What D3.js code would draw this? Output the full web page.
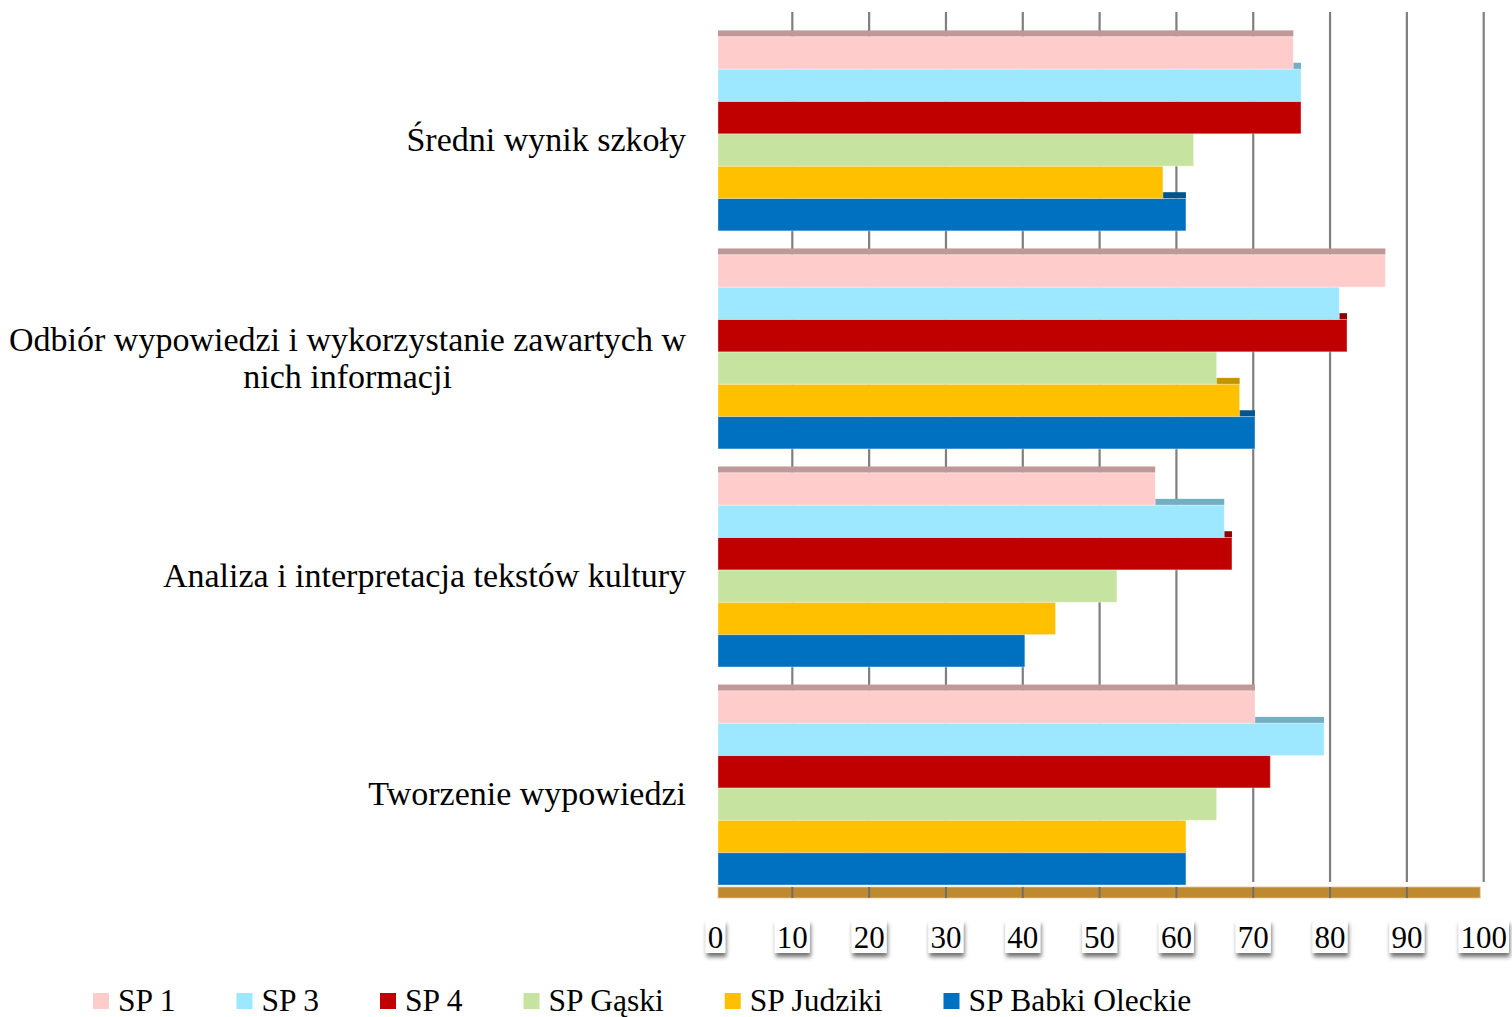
<!DOCTYPE html>
<html><head><meta charset="utf-8">
<script src="https://cdn.jsdelivr.net/npm/d3@7"></script>
<style>body{margin:0;background:#fff}svg{display:block}</style>
</head><body>
<svg id="c" width="1512" height="1017"></svg>
<script>
const categories = [
  "Średni wynik szkoły",
  "Odbiór wypowiedzi i wykorzystanie zawartych w nich informacji",
  "Analiza i interpretacja tekstów kultury",
  "Tworzenie wypowiedzi"
];
const seriesNames = ["SP 1", "SP 3", "SP 4", "SP Gąski", "SP Judziki", "SP Babki Oleckie"];
const sp1 = [75, 87, 57, 70];
const sp3 = [76, 81, 66, 79];
const sp4 = [76, 82, 67, 72];
const spGaski = [62, 65, 52, 65];
const spJudziki = [58, 68, 44, 61];
const spBabki = [61, 70, 40, 61];
const tickValues = [0, 10, 20, 30, 40, 50, 60, 70, 80, 90, 100];
const faceColors = ["#FFCCCC", "#9DE7FF", "#C00000", "#C6E4A0", "#FFC000", "#0070C0"];
const topColors = ["#C09898", "#74AEC2", "#900000", "#9BB57C", "#C49300", "#00558F"];

const seriesValues = [sp1, sp3, sp4, spGaski, spJudziki, spBabki];
const FONT = "'Liberation Serif', 'Times New Roman', serif";

const svg = d3.select("#c");
const defs = svg.append("defs");
const f = defs.append("filter").attr("id", "sh").attr("x", "-30%").attr("y", "-30%").attr("width", "160%").attr("height", "180%");
f.append("feDropShadow").attr("dx", 1).attr("dy", 4).attr("stdDeviation", 2.2)
  .attr("flood-color", "#000").attr("flood-opacity", 0.55);

// scales
const xGrid = d3.scaleLinear().domain([0, 100]).range([715.5, 1483.7]);
const xBar = d3.scaleLinear().domain([0, 100]).range([718, 1485.1]);
const yCat = d3.scaleBand().domain(categories).range([24.75, 896.95]).paddingInner(0.1095).paddingOuter(0.05475);
const ySer = d3.scaleBand().domain(seriesNames).range([0, yCat.bandwidth()]).padding(0);

// gridlines (back wall)
const gridTop = 12, gridBottom = 882;
svg.append("g").selectAll("line").data(tickValues.filter(t => t > 0)).join("line")
  .attr("x1", d => xGrid(d)).attr("x2", d => xGrid(d))
  .attr("y1", gridTop).attr("y2", gridBottom)
  .attr("stroke", "#7F7F7F").attr("stroke-width", 2.2);

// floor
const floorY = 887, floorH = 11;
const floorG = svg.append("g");
floorG.append("rect").attr("x", xBar(0)).attr("y", floorY)
  .attr("width", xGrid(100) - 3.5 - xBar(0)).attr("height", floorH)
  .attr("fill", "#BF8A2F").attr("stroke", "#E6C79A").attr("stroke-width", 0.8);
floorG.selectAll("line").data(tickValues.filter(t => t > 0 && t < 100)).join("line")
  .attr("x1", d => xGrid(d)).attr("x2", d => xGrid(d))
  .attr("y1", floorY).attr("y2", floorY + floorH)
  .attr("stroke", "#6F6F6F").attr("stroke-width", 2);

// bars (drawn bottom-to-top within each group so the upper bar hides the lower's top face)
const topH = 6.3;
const gBars = svg.append("g");
categories.forEach((cat, ci) => {
  const grp = gBars.append("g").attr("transform", `translate(0,${yCat(cat)})`);
  const items = seriesNames.map((s, si) => ({ s, si, v: seriesValues[si][ci] })).reverse();
  const b = grp.selectAll("g").data(items).join("g");
  b.append("rect")
    .attr("x", xBar(0)).attr("y", d => ySer(d.s) - topH)
    .attr("width", d => xBar(d.v) - xBar(0)).attr("height", topH)
    .attr("fill", d => topColors[d.si]);
  b.append("rect")
    .attr("x", xBar(0)).attr("y", d => ySer(d.s))
    .attr("width", d => xBar(d.v) - xBar(0)).attr("height", ySer.bandwidth())
    .attr("fill", d => faceColors[d.si])
    .attr("stroke", "#ffffff").attr("stroke-opacity", 0.35).attr("stroke-width", 1);
});

// category labels
const labelRight = 686, lineH = 37, maxW = 690;
const gLab = svg.append("g").attr("font-family", FONT).attr("font-size", 34).attr("fill", "#000");
categories.forEach(cat => {
  const cy = yCat(cat) + yCat.bandwidth() / 2 + 6;
  const words = cat.split(" ");
  const tmp = gLab.append("text");
  const lines = [];
  let cur = [];
  words.forEach(w => {
    const test = cur.concat(w).join(" ");
    tmp.text(test);
    if (tmp.node().getComputedTextLength() > maxW && cur.length) {
      lines.push(cur.join(" ")); cur = [w];
    } else cur.push(w);
  });
  lines.push(cur.join(" "));
  const widths = lines.map(l => { tmp.text(l); return tmp.node().getComputedTextLength(); });
  tmp.remove();
  const maxLine = d3.max(widths);
  const cx = labelRight - maxLine / 2;
  lines.forEach((l, i) => {
    const y = cy + (i - (lines.length - 1) / 2) * lineH;
    const t = gLab.append("text").attr("y", y).attr("dominant-baseline", "central").text(l);
    if (lines.length === 1) t.attr("x", labelRight).attr("text-anchor", "end");
    else t.attr("x", cx).attr("text-anchor", "middle");
  });
});

// x axis tick labels with white boxes and shadow
const gTicks = svg.append("g").attr("font-family", FONT).attr("font-size", 31);
tickValues.forEach(t => {
  const g = gTicks.append("g").attr("transform", `translate(${xGrid(t)},0)`);
  const r = g.append("rect").attr("fill", "#fff").attr("filter", "url(#sh)");
  const tx = g.append("text").attr("text-anchor", "middle").attr("y", 948).attr("fill", "#000").text(t);
  const w = tx.node().getComputedTextLength();
  r.attr("x", -w / 2 - 2).attr("y", 920).attr("width", w + 4).attr("height", 33);
  tx.raise();
});

// legend
const gLeg = svg.append("g").attr("font-family", FONT).attr("font-size", 31.5);
let lx = 93;
seriesNames.forEach((s, i) => {
  gLeg.append("rect").attr("x", lx).attr("y", 993).attr("width", 16).attr("height", 16).attr("fill", faceColors[i]);
  const t = gLeg.append("text").attr("x", lx + 25).attr("y", 1011).attr("fill", "#000").text(s);
  lx += 25 + t.node().getComputedTextLength() + 61;
});
</script>
</body></html>
